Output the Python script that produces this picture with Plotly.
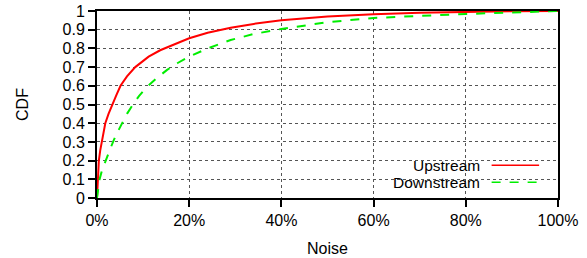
import plotly.graph_objects as go

# Noise (%) vs CDF
up_x = [0, 0.17, 0.4, 0.7, 1.0, 1.8, 2.5, 3.3, 4.2, 5.1, 6.5, 8.3, 10.0, 11.2, 13.7, 16.5, 20, 24, 29, 34, 40, 50, 60, 70, 80, 90, 100]
up_y = [0, 0.10, 0.20, 0.255, 0.30, 0.40, 0.45, 0.50, 0.55, 0.60, 0.65, 0.70, 0.735, 0.756, 0.79, 0.82, 0.854, 0.884, 0.91, 0.931, 0.95, 0.97, 0.983, 0.991, 0.996, 0.999, 1.0]

down_x = [0, 0.2, 0.54, 1.1, 1.8, 2.6, 3.5, 4.4, 5.4, 6.5, 7.8, 9.1, 10.8, 12.9, 15.2, 17.5, 20, 24, 29, 34, 40, 50, 60, 70, 80, 90, 100]
down_y = [0, 0.044, 0.098, 0.15, 0.195, 0.25, 0.302, 0.35, 0.40, 0.45, 0.50, 0.545, 0.593, 0.64, 0.685, 0.722, 0.756, 0.80, 0.845, 0.877, 0.904, 0.94, 0.963, 0.975, 0.984, 0.992, 1.0]

x_ticks = [0, 20, 40, 60, 80, 100]
x_labels = ["0%", "20%", "40%", "60%", "80%", "100%"]
y_ticks = [0, 0.1, 0.2, 0.3, 0.4, 0.5, 0.6, 0.7, 0.8, 0.9, 1]
y_labels = ["0", "0.1", "0.2", "0.3", "0.4", "0.5", "0.6", "0.7", "0.8", "0.9", "1"]

FONT = "Liberation Sans, Arial, sans-serif"

fig = go.Figure()
fig.add_trace(go.Scatter(x=up_x, y=up_y, mode="lines", name="Upstream",
                         line=dict(color="#ff0000", width=2)))
fig.add_trace(go.Scatter(x=down_x, y=down_y, mode="lines", name="Downstream",
                         line=dict(color="#00ee00", width=2, dash="dash")))

axis_common = dict(showline=True, linecolor="black", linewidth=2, mirror=True,
                   ticks="outside", ticklen=7, tickwidth=1.5, tickcolor="black",
                   showgrid=True, gridcolor="#555", gridwidth=1, griddash="dot",
                   zeroline=False, automargin=False,
                   tickfont=dict(family=FONT, size=16, color="black"))

fig.update_xaxes(range=[0, 100], tickvals=x_ticks, ticktext=x_labels,
                 title=dict(text="Noise", font=dict(family=FONT, size=16, color="black"), standoff=15),
                 **axis_common)
fig.update_yaxes(range=[0, 1], tickvals=y_ticks, ticktext=y_labels,
                 title=dict(text="CDF", font=dict(family=FONT, size=16, color="black"), standoff=30),
                 **axis_common)

# legend box (white background hiding grid) and entries
up_leg_y = 0.175
down_leg_y = 0.084
fig.add_shape(type="rect", xref="paper", yref="paper", x0=0.6, x1=0.985, y0=0.05, y1=0.225,
              fillcolor="white", line=dict(width=0), layer="between")
fig.add_shape(type="line", xref="paper", yref="paper", x0=0.856, x1=0.959, y0=up_leg_y, y1=up_leg_y,
              line=dict(color="#ff0000", width=1.5))
fig.add_shape(type="line", xref="paper", yref="paper", x0=0.856, x1=0.959, y0=down_leg_y, y1=down_leg_y,
              line=dict(color="#00ee00", width=1.5, dash="dash"))
fig.add_annotation(xref="paper", yref="paper", x=0.834, y=up_leg_y, text="Upstream", showarrow=False,
                   xanchor="right", yanchor="middle", borderpad=0,
                   font=dict(family=FONT, size=15.5, color="black"))
fig.add_annotation(xref="paper", yref="paper", x=0.834, y=down_leg_y, text="Downstream", showarrow=False,
                   xanchor="right", yanchor="middle", borderpad=0,
                   font=dict(family=FONT, size=15.5, color="black"))

fig.update_layout(width=587, height=258, margin=dict(l=96.5, r=29, t=11, b=60),
                  paper_bgcolor="white", plot_bgcolor="white", showlegend=False,
                  font=dict(family=FONT, size=16, color="black"))

fig.write_html("out.html", config={"displayModeBar": False},
               post_script="document.body.style.margin='0';document.body.style.padding='0';")
